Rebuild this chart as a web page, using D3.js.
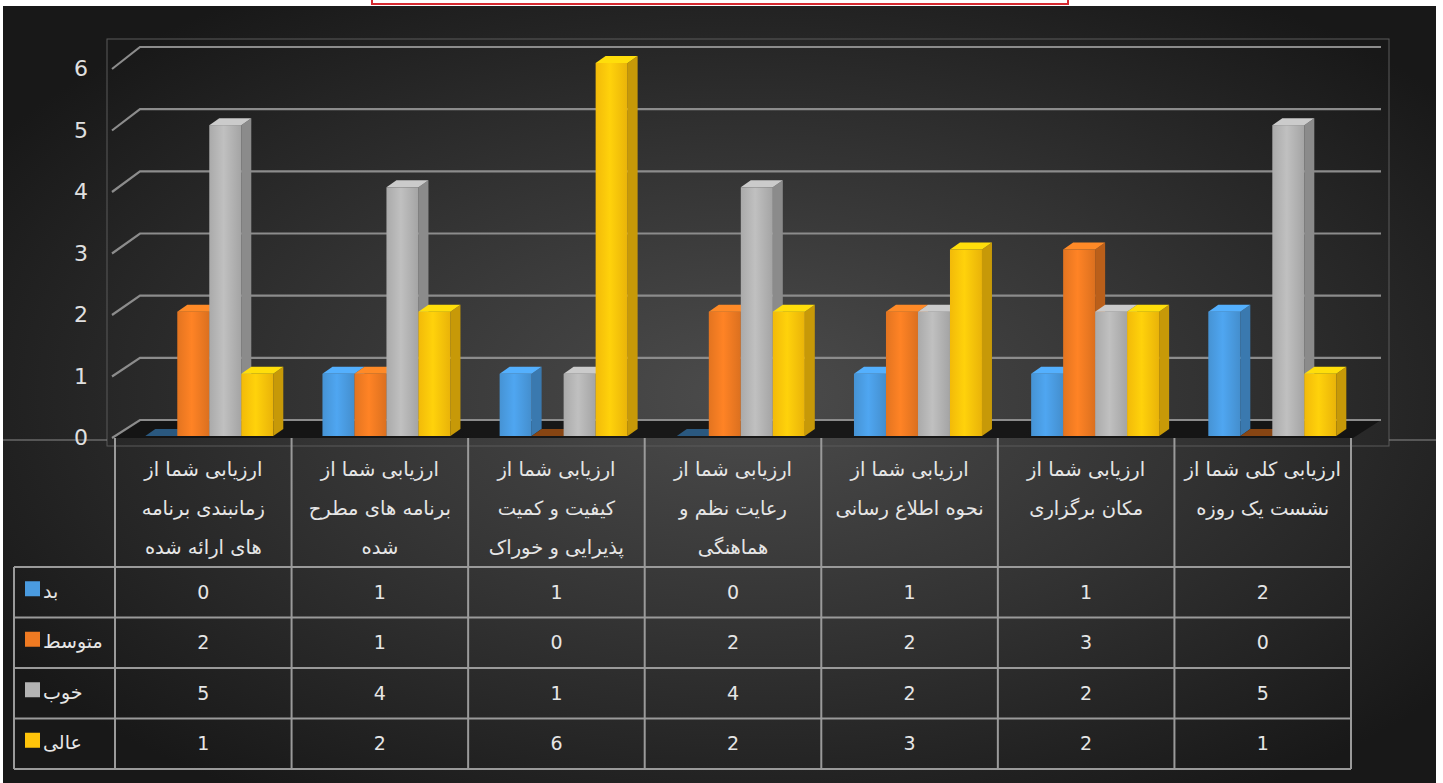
<!DOCTYPE html>
<html>
<head>
<meta charset="utf-8">
<script src="https://cdn.jsdelivr.net/npm/d3@7"></script>
<style>
  body { margin: 0; background: #fff; overflow: hidden; }
  text { font-family: "DejaVu Sans", sans-serif; }
</style>
</head>
<body>
<div id="chart"></div>
<script>
// category labels, one array of lines per column
var categories = [
    ["ارزیابی شما از", "زمانبندی برنامه", "های ارائه شده"],
    ["ارزیابی شما از", "برنامه های مطرح", "شده"],
    ["ارزیابی شما از", "کیفیت و کمیت", "پذیرایی و خوراک"],
    ["ارزیابی شما از", "رعایت نظم و", "هماهنگی"],
    ["ارزیابی شما از", "نحوه اطلاع رسانی"],
    ["ارزیابی شما از", "مکان برگزاری"],
    ["ارزیابی کلی شما از", "نشست یک روزه"]
];
var seriesNames = ["بد", "متوسط", "خوب", "عالی"];
var badValues = [0, 1, 1, 0, 1, 1, 2];
var mediumValues = [2, 1, 0, 2, 2, 3, 0];
var goodValues = [5, 4, 1, 4, 2, 2, 5];
var excellentValues = [1, 2, 6, 2, 3, 2, 1];
var yTicks = [0, 1, 2, 3, 4, 5, 6];

var seriesValues = [badValues, mediumValues, goodValues, excellentValues];
var seriesColors = ["#4a9be0", "#ef7a22", "#b3b3b3", "#ffc40a"];

var W = 1443, H = 783;
var svg = d3.select("#chart").append("svg")
    .attr("width", W)
    .attr("height", H);

var defs = svg.append("defs");
var bg = defs.append("radialGradient").attr("id", "bg")
    .attr("cx", "52%").attr("cy", "50%").attr("r", "62%");
bg.append("stop").attr("offset", "0%").attr("stop-color", "#4c4c4c");
bg.append("stop").attr("offset", "50%").attr("stop-color", "#333");
bg.append("stop").attr("offset", "100%").attr("stop-color", "#181818");

seriesColors.forEach(function(c, i) {
    var g = defs.append("linearGradient").attr("id", "front" + i)
        .attr("x1", "0%").attr("x2", "100%").attr("y1", "0%").attr("y2", "0%");
    g.append("stop").attr("offset", "0%").attr("stop-color", d3.color(c).darker(0.15));
    g.append("stop").attr("offset", "45%").attr("stop-color", d3.color(c).brighter(0.2));
    g.append("stop").attr("offset", "100%").attr("stop-color", d3.color(c).darker(0.25));
});

// title box at the top, cut off by the page
svg.append("rect")
    .attr("x", 372).attr("y", -20).attr("width", 696).attr("height", 24)
    .attr("fill", "#fff").attr("stroke", "#d62a30").attr("stroke-width", 2);

// dark panel
svg.append("rect")
    .attr("x", 3).attr("y", 6).attr("width", 1433).attr("height", H - 6)
    .attr("fill", "url(#bg)");

// scales
var x = d3.scaleBand().domain(d3.range(categories.length)).range([115, 1351]);
var inner = d3.scaleBand().domain(d3.range(seriesNames.length)).range([0, 128]);
var yBack = d3.scaleLinear().domain([0, 6]).range([420, 47]);
var yFront = d3.scaleLinear().domain([0, 6]).range([438, 69]);
var yBar = d3.scaleLinear().domain([0, 6]).range([436, 63]);
var rows = d3.scaleBand().domain(d3.range(seriesNames.length)).range([567, 769]);

var backLeft = 140, backRight = 1381, frontLeft = 112;
var depthX = 10, depthY = 7;

// plot frame
svg.append("rect")
    .attr("x", 107).attr("y", 39).attr("width", 1282).attr("height", 407)
    .attr("fill", "none").attr("stroke", "#5a5a5a").attr("stroke-width", 1);

svg.append("line").attr("x1", 3).attr("x2", 107).attr("y1", 440).attr("y2", 440)
    .attr("stroke", "#8a8a8a").attr("stroke-width", 1);
svg.append("line").attr("x1", 1389).attr("x2", 1436).attr("y1", 440).attr("y2", 440)
    .attr("stroke", "#8a8a8a").attr("stroke-width", 1);

// floor
svg.append("path")
    .attr("d", "M" + frontLeft + "," + yFront(0) + "L" + backLeft + "," + yBack(0) +
        "L" + backRight + "," + yBack(0) + "L" + (backRight - 28) + "," + yFront(0) + "Z")
    .attr("fill", "#111").attr("opacity", 0.85);

// gridlines with the 3D side wall edge
var grid = svg.append("g");
grid.selectAll("path.grid")
    .data(yTicks)
    .enter()
    .append("path")
    .attr("class", "grid")
    .attr("d", function(d) {
        return "M" + frontLeft + "," + yFront(d) + "L" + backLeft + "," + yBack(d) +
            "L" + backRight + "," + yBack(d);
    })
    .attr("fill", "none")
    .attr("stroke", "#8c8c8c")
    .attr("stroke-width", 2.2);

svg.selectAll("text.ytick")
    .data(yTicks)
    .enter()
    .append("text")
    .attr("class", "ytick")
    .attr("x", 81)
    .attr("y", function(d) { return yFront(d) + 1; })
    .attr("text-anchor", "middle")
    .attr("dominant-baseline", "middle")
    .style("font-size", "22px")
    .style("fill", "#e0e0e0")
    .text(function(d) { return d; });

// bars
var bars = [];
categories.forEach(function(c, i) {
    var off = 6 + i * 0.6;
    var x0 = x(i) + x.bandwidth() / 2 - 64 + off;
    seriesValues.forEach(function(vals, s) {
        bars.push({ cat: i, s: s, v: vals[i], x: x0 + inner(s), w: inner.bandwidth() });
    });
});

var barG = svg.append("g").selectAll("g")
    .data(bars)
    .enter()
    .append("g");

barG.append("path")
    .attr("d", function(d) {
        var top = yBar(d.v), bot = yBar(0), r = d.x + d.w;
        return "M" + r + "," + top + "L" + (r + depthX) + "," + (top - depthY) +
            "L" + (r + depthX) + "," + (bot - depthY) + "L" + r + "," + bot + "Z";
    })
    .attr("fill", function(d) { return d3.color(seriesColors[d.s]).darker(0.7); });

barG.append("rect")
    .attr("x", function(d) { return d.x; })
    .attr("y", function(d) { return yBar(d.v); })
    .attr("width", function(d) { return d.w; })
    .attr("height", function(d) { return yBar(0) - yBar(d.v); })
    .attr("fill", function(d) { return "url(#front" + d.s + ")"; });

barG.append("path")
    .attr("d", function(d) {
        var top = yBar(d.v);
        return "M" + d.x + "," + top + "L" + (d.x + depthX) + "," + (top - depthY) +
            "L" + (d.x + d.w + depthX) + "," + (top - depthY) + "L" + (d.x + d.w) + "," + top + "Z";
    })
    .attr("fill", function(d) {
        var c = d3.color(seriesColors[d.s]);
        return d.v === 0 ? c.darker(1.6) : c.brighter(0.35);
    });

// data table
var lineColor = "#9a9a9a";
var table = svg.append("g");
var colEdges = x.domain().map(function(i) { return x(i); }).concat([x.range()[1]]);

table.selectAll("line.v")
    .data(colEdges)
    .enter()
    .append("line")
    .attr("x1", function(d) { return d; })
    .attr("x2", function(d) { return d; })
    .attr("y1", 438)
    .attr("y2", 769)
    .attr("stroke", lineColor)
    .attr("stroke-width", 2);

table.append("line")
    .attr("x1", 14).attr("x2", 14).attr("y1", 567).attr("y2", 769)
    .attr("stroke", lineColor).attr("stroke-width", 2);

var rowEdges = rows.domain().map(function(i) { return rows(i); }).concat([rows.range()[1]]);
table.selectAll("line.h")
    .data(rowEdges)
    .enter()
    .append("line")
    .attr("x1", 14)
    .attr("x2", x.range()[1])
    .attr("y1", function(d) { return d; })
    .attr("y2", function(d) { return d; })
    .attr("stroke", lineColor)
    .attr("stroke-width", 2);

// category headers
categories.forEach(function(lines, i) {
    table.append("text")
        .attr("x", x(i) + x.bandwidth() / 2)
        .attr("y", 470)
        .attr("text-anchor", "middle")
        .attr("direction", "rtl")
        .style("font-size", "19.5px")
        .style("fill", "#e6e6e6")
        .selectAll("tspan")
        .data(lines)
        .enter()
        .append("tspan")
        .attr("x", x(i) + x.bandwidth() / 2)
        .attr("y", function(d, k) { return 470 + k * 39; })
        .attr("dominant-baseline", "middle")
        .text(function(d) { return d; });
});

// legend keys and values
seriesNames.forEach(function(name, s) {
    var cy = rows(s) + rows.bandwidth() / 2;
    table.append("rect")
        .attr("x", 25).attr("y", cy - 11).attr("width", 15).attr("height", 15)
        .attr("fill", seriesColors[s]);
    table.append("text")
        .attr("x", 43)
        .attr("y", cy)
        .attr("text-anchor", "start")
        .attr("dominant-baseline", "middle")
        .style("font-size", "19px")
        .style("fill", "#e6e6e6")
        .text(name);

    table.selectAll("text.val" + s)
        .data(seriesValues[s])
        .enter()
        .append("text")
        .attr("class", "val" + s)
        .attr("x", function(d, i) { return x(i) + x.bandwidth() / 2; })
        .attr("y", cy + 1)
        .attr("text-anchor", "middle")
        .attr("dominant-baseline", "middle")
        .style("font-size", "19px")
        .style("fill", "#e6e6e6")
        .text(function(d) { return d; });
});
</script>
</body>
</html>
